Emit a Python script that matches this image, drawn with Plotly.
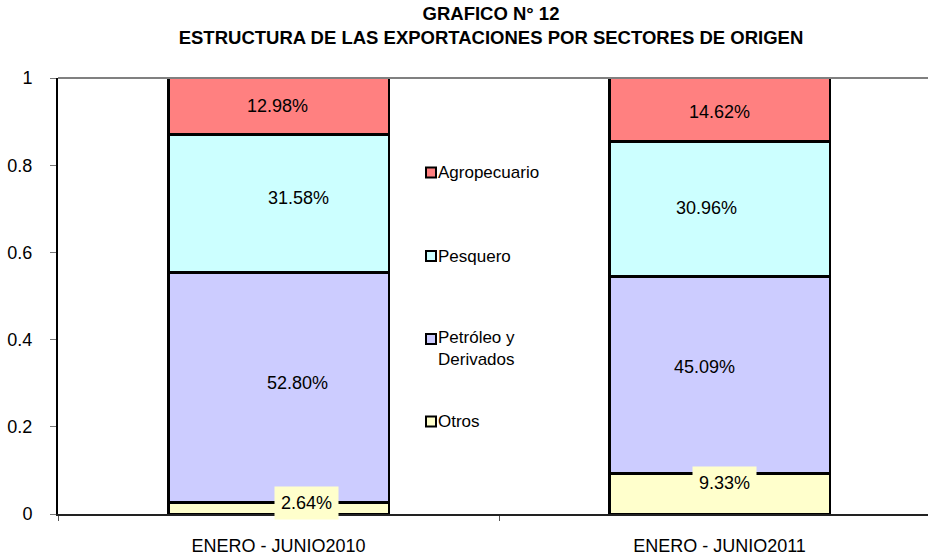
import plotly.graph_objects as go

# ---- data ----
periods = ["ENERO - JUNIO2010", "ENERO - JUNIO2011"]
sectors = ["Otros", "Petróleo y<br>Derivados", "Pesquero", "Agropecuario"]  # bottom -> top
otros = [2.64, 9.33]
petroleo = [52.80, 45.09]
pesquero = [31.58, 30.96]
agropecuario = [12.98, 14.62]
y_ticks = [0, 0.2, 0.4, 0.6, 0.8, 1]
y_tick_labels = ["0", "0.2", "0.4", "0.6", "0.8", "1"]

series = [otros, petroleo, pesquero, agropecuario]

# ---- style ----
colors = ["#FFFFCC", "#CCCCFF", "#CCFFFF", "#FF8080"]
FONT = "Liberation Sans, Arial, sans-serif"
FS = 18
W, H = 928, 559
ML, MR, MT, MB = 58, 0, 78, 45
PW, PH = W - ML - MR, H - MT - MB
# label offsets in px (xshift, yshift) per series per period
label_offsets = [
    [(28, 5), (5, 11)],
    [(19, 4), (-15, 8)],
    [(20, 5), (-13, 1)],
    [(-1, 0), (0, -2)],
]
label_bg = ["#FFFFCC", None, None, None]
# legend rows, pixel centre y of first text line
legend_rows_px = [421.5, 339, 256, 172.5]

fig = go.Figure()
for name, vals, col in zip(sectors, series, colors):
    fig.add_trace(go.Bar(
        x=periods, y=[v / 100 for v in vals], name=name, width=0.5,
        marker=dict(color=col, line=dict(color="#000000", width=2.5)),
        showlegend=False, hoverinfo="skip",
    ))

annotations = []
base = [0.0, 0.0]
for si, vals in enumerate(series):
    for pi, v in enumerate(vals):
        frac = v / 100
        mid = base[pi] + frac / 2
        xs, ys = label_offsets[si][pi]
        ann = dict(x=periods[pi], y=mid, xref="x", yref="y",
                   text=f"{v:.2f}%", showarrow=False,
                   xshift=xs, yshift=ys,
                   font=dict(family=FONT, size=FS, color="#000"))
        if label_bg[si]:
            ann.update(bgcolor=label_bg[si], borderpad=6)
        annotations.append(ann)
        base[pi] += frac

# manual legend (middle of chart)
shapes = []
for name, col, ypx in zip(sectors, colors, legend_rows_px):
    yc = (H - MB - ypx) / PH
    half = 5 / PH
    shapes.append(dict(type="rect", xref="paper", yref="paper",
                       x0=(426 - ML) / PW, x1=(436 - ML) / PW,
                       y0=yc - half, y1=yc + half,
                       fillcolor=col, line=dict(color="#000", width=2)))
    nlines = name.count("<br>") + 1
    ytext = yc - (nlines - 1) * (19.5 / 2) / PH
    annotations.append(dict(x=(436 - ML) / PW, y=ytext, xref="paper", yref="paper",
                            xanchor="left", yanchor="middle", align="left",
                            text=name, showarrow=False,
                            font=dict(family=FONT, size=17, color="#000")))

# top border of plot area
shapes.append(dict(type="line", xref="paper", yref="paper", x0=0, x1=1, y0=1, y1=1,
                   line=dict(color="#808080", width=2)))

fig.update_layout(
    width=W, height=H,
    margin=dict(l=ML, r=MR, t=MT, b=MB),
    paper_bgcolor="white", plot_bgcolor="white",
    barmode="stack", bargap=0.5,
    showlegend=False,
    font=dict(family=FONT, size=FS, color="#000"),
    title=dict(
        text="<b>GRAFICO N° 12</b><br><b>ESTRUCTURA DE LAS EXPORTACIONES POR SECTORES DE ORIGEN</b>",
        x=491 / W, xanchor="center", xref="container",
        y=1 - 20 / H, yanchor="top", yref="container",
        font=dict(family=FONT, size=18.5, color="#000"),
    ),
    annotations=annotations,
    shapes=shapes,
)
fig.update_xaxes(type="category", range=[-0.5, -0.5 + PW / 441],
                 tickson="boundaries", ticks="outside", ticklen=5, tickcolor="#555",
                 showline=True, linecolor="#222", linewidth=2, showgrid=False,
                 ticklabelstandoff=14, tickfont=dict(family=FONT, size=FS, color="#000"))
fig.update_yaxes(range=[0, 1], tickvals=y_ticks, ticktext=y_tick_labels,
                 ticks="outside", ticklen=6, tickcolor="#777",
                 showline=True, linecolor="#000", linewidth=2, showgrid=False,
                 zeroline=False, ticklabelstandoff=14,
                 tickfont=dict(family=FONT, size=FS, color="#000"))

fig.write_html(
    "out.html",
    config={"displayModeBar": False},
    post_script="document.body.style.margin='0';document.body.style.overflow='hidden';",
)
